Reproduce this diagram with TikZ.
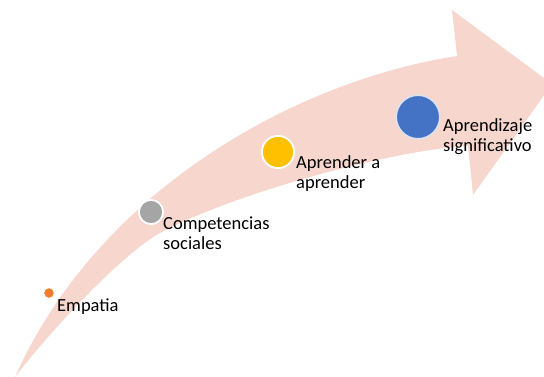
\documentclass[tikz,border=0pt]{standalone}
\usepackage{fontspec}
\setmainfont{Carlito}
\usetikzlibrary{positioning,calc}
\definecolor{arrowpink}{HTML}{F7D6CD}
\definecolor{morange}{HTML}{ED7D31}
\definecolor{mgray}{HTML}{A5A5A5}
\definecolor{myellow}{HTML}{FFC000}
\definecolor{mblue}{HTML}{4472C4}
\tikzset{
  stage/.style={circle, fill=#1, draw=white, line width=1.8pt, inner sep=0pt},
  lbl/.style={font=\fontsize{18.5}{20}\selectfont, text=black, align=left,
              inner sep=0pt, anchor=base west}
}

\begin{document}
\begin{tikzpicture}[x=1pt, y=-1pt]
  \clip (0,0) rectangle (544,377);
  % curved arrow
  \fill[arrowpink] (15,377) .. controls (100,187) and (300,80) .. (457,56)
    -- (452,10) -- (552,84) -- (473,195) -- (468,146)
    .. controls (390,150) and (230,195) .. (160,233)
    .. controls (125,252) and (55,325) .. (15,377) -- cycle;
  % stages
  \node[stage=morange, minimum size=10.4pt, line width=0.6pt] (c1) at (49,293) {};
  \node[stage=mgray, minimum size=24.2pt] (c2) at (151,212) {};
  \node[stage=myellow, minimum size=32.2pt] (c3) at (278,152) {};
  \node[stage=mblue, minimum size=43.5pt, draw=white!80!mblue, line width=1.5pt] (c4) at (418,117) {};
  % labels (base = last line)
  \node[lbl] (t1) at ([shift={(2.5,18)}]c1.east) {Empatia};
  \node[lbl] (t2) at ([shift={(-1,37)}]c2.east) {Competencias\\sociales};
  \node[lbl] (t3) at ([shift={(1,37)}]c3.east) {Aprender a\\aprender};
  \node[lbl] (t4) at ([shift={(2.5,35)}]c4.east) {Aprendizaje\\significativo};
\end{tikzpicture}
\end{document}
